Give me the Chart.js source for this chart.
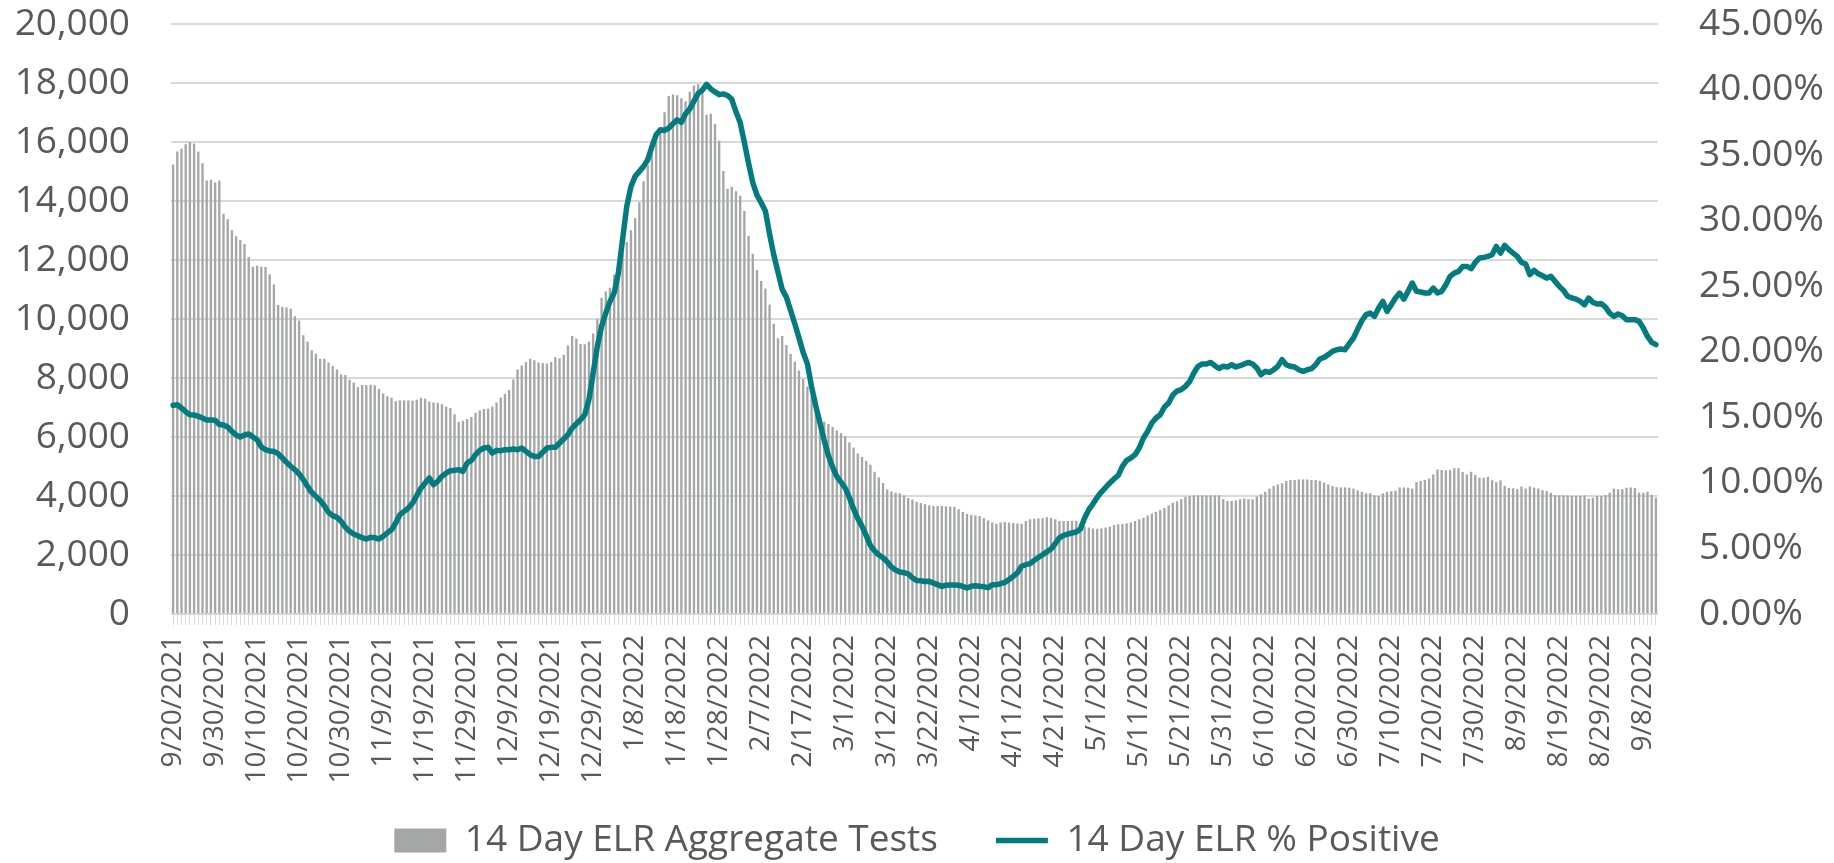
<!DOCTYPE html>
<html>
<head>
<meta charset="utf-8">
<script src="https://cdn.jsdelivr.net/npm/chart.js@4.4.1/dist/chart.umd.min.js"></script>
<style>
html,body{margin:0;padding:0;background:#ffffff;}
#wrap{width:1834px;height:863px;position:relative;}
</style>
</head>
<body>
<div id="wrap"><canvas id="c" width="1834" height="863"></canvas></div>
<script>
// ---- categories (daily report dates) ----
const categories = [
"9/20/2021","9/21/2021","9/22/2021","9/23/2021","9/24/2021","9/25/2021","9/26/2021","9/27/2021","9/28/2021","9/29/2021","9/30/2021",
"10/1/2021","10/2/2021","10/3/2021","10/4/2021","10/5/2021","10/6/2021","10/7/2021","10/8/2021","10/9/2021","10/10/2021","10/11/2021","10/12/2021","10/13/2021","10/14/2021","10/15/2021","10/16/2021","10/17/2021","10/18/2021","10/19/2021","10/20/2021","10/21/2021","10/22/2021","10/23/2021","10/24/2021","10/25/2021","10/26/2021","10/27/2021","10/28/2021","10/29/2021","10/30/2021","10/31/2021",
"11/1/2021","11/2/2021","11/3/2021","11/4/2021","11/5/2021","11/6/2021","11/7/2021","11/8/2021","11/9/2021","11/10/2021","11/11/2021","11/12/2021","11/13/2021","11/14/2021","11/15/2021","11/16/2021","11/17/2021","11/18/2021","11/19/2021","11/20/2021","11/21/2021","11/22/2021","11/23/2021","11/24/2021","11/25/2021","11/26/2021","11/27/2021","11/28/2021","11/29/2021","11/30/2021",
"12/1/2021","12/2/2021","12/3/2021","12/4/2021","12/5/2021","12/6/2021","12/7/2021","12/8/2021","12/9/2021","12/10/2021","12/11/2021","12/12/2021","12/13/2021","12/14/2021","12/15/2021","12/16/2021","12/17/2021","12/18/2021","12/19/2021","12/20/2021","12/21/2021","12/22/2021","12/23/2021","12/24/2021","12/25/2021","12/26/2021","12/27/2021","12/28/2021","12/29/2021","12/30/2021","12/31/2021",
"1/1/2022","1/2/2022","1/3/2022","1/4/2022","1/5/2022","1/6/2022","1/7/2022","1/8/2022","1/9/2022","1/10/2022","1/11/2022","1/12/2022","1/13/2022","1/14/2022","1/15/2022","1/16/2022","1/17/2022","1/18/2022","1/19/2022","1/20/2022","1/21/2022","1/22/2022","1/23/2022","1/24/2022","1/25/2022","1/26/2022","1/27/2022","1/28/2022","1/29/2022","1/30/2022","1/31/2022",
"2/1/2022","2/2/2022","2/3/2022","2/4/2022","2/5/2022","2/6/2022","2/7/2022","2/8/2022","2/9/2022","2/10/2022","2/11/2022","2/12/2022","2/13/2022","2/14/2022","2/15/2022","2/16/2022","2/17/2022","2/18/2022","2/19/2022","2/22/2022","2/23/2022","2/24/2022","2/25/2022","2/26/2022","2/27/2022","2/28/2022",
"3/1/2022","3/2/2022","3/3/2022","3/4/2022","3/5/2022","3/7/2022","3/8/2022","3/9/2022","3/10/2022","3/11/2022","3/12/2022","3/13/2022","3/14/2022","3/15/2022","3/16/2022","3/17/2022","3/18/2022","3/19/2022","3/20/2022","3/21/2022","3/22/2022","3/23/2022","3/24/2022","3/25/2022","3/26/2022","3/27/2022","3/28/2022","3/29/2022","3/30/2022","3/31/2022",
"4/1/2022","4/2/2022","4/3/2022","4/4/2022","4/5/2022","4/6/2022","4/7/2022","4/8/2022","4/9/2022","4/10/2022","4/11/2022","4/12/2022","4/13/2022","4/14/2022","4/15/2022","4/16/2022","4/17/2022","4/18/2022","4/19/2022","4/20/2022","4/21/2022","4/22/2022","4/23/2022","4/24/2022","4/25/2022","4/26/2022","4/27/2022","4/28/2022","4/29/2022","4/30/2022",
"5/1/2022","5/2/2022","5/3/2022","5/4/2022","5/5/2022","5/6/2022","5/7/2022","5/8/2022","5/9/2022","5/10/2022","5/11/2022","5/12/2022","5/13/2022","5/14/2022","5/15/2022","5/16/2022","5/17/2022","5/18/2022","5/19/2022","5/20/2022","5/21/2022","5/22/2022","5/23/2022","5/24/2022","5/25/2022","5/26/2022","5/27/2022","5/28/2022","5/29/2022","5/30/2022","5/31/2022",
"6/1/2022","6/2/2022","6/3/2022","6/4/2022","6/5/2022","6/6/2022","6/7/2022","6/8/2022","6/9/2022","6/10/2022","6/11/2022","6/12/2022","6/13/2022","6/14/2022","6/15/2022","6/16/2022","6/17/2022","6/18/2022","6/19/2022","6/20/2022","6/21/2022","6/22/2022","6/23/2022","6/24/2022","6/25/2022","6/26/2022","6/27/2022","6/28/2022","6/29/2022","6/30/2022",
"7/1/2022","7/2/2022","7/3/2022","7/4/2022","7/5/2022","7/6/2022","7/7/2022","7/8/2022","7/9/2022","7/10/2022","7/11/2022","7/12/2022","7/13/2022","7/14/2022","7/15/2022","7/16/2022","7/17/2022","7/18/2022","7/19/2022","7/20/2022","7/21/2022","7/22/2022","7/23/2022","7/24/2022","7/25/2022","7/26/2022","7/27/2022","7/28/2022","7/29/2022","7/30/2022","7/31/2022",
"8/1/2022","8/2/2022","8/3/2022","8/4/2022","8/5/2022","8/6/2022","8/7/2022","8/8/2022","8/9/2022","8/10/2022","8/11/2022","8/12/2022","8/13/2022","8/14/2022","8/15/2022","8/16/2022","8/17/2022","8/18/2022","8/19/2022","8/20/2022","8/21/2022","8/22/2022","8/23/2022","8/24/2022","8/25/2022","8/26/2022","8/27/2022","8/28/2022","8/29/2022","8/30/2022","8/31/2022",
"9/1/2022","9/2/2022","9/3/2022","9/4/2022","9/5/2022","9/6/2022","9/7/2022","9/8/2022","9/9/2022","9/10/2022","9/11/2022"
];

// ---- series: 14 Day ELR Aggregate Tests (left axis) ----
const aggregateTests = [
15230,15670,15760,15910,15990,15940,15670,15270,14680,14710,
14620,14680,13560,13370,13000,12790,12670,12530,12090,11760,
11790,11760,11750,11510,11160,10460,10400,10380,10340,10080,
9940,9440,9230,8930,8810,8640,8640,8510,8400,8280,
8110,8090,7930,7840,7680,7750,7750,7760,7740,7620,
7460,7370,7320,7200,7230,7230,7230,7220,7250,7320,
7290,7190,7160,7140,7100,7020,6970,6760,6500,6540,
6600,6670,6810,6890,6940,6950,7020,7160,7330,7450,
7580,7940,8280,8410,8530,8640,8590,8510,8490,8480,
8530,8690,8660,8780,9090,9410,9330,9140,9130,9220,
9500,9980,10710,10920,11050,11500,11900,12250,12600,13000,
13400,13950,14660,15200,15600,16000,16400,17000,17550,17600,
17570,17470,17370,17690,17900,17950,17860,16910,16950,16600,
16030,15010,14400,14470,14320,14170,13650,12800,12200,11650,
11280,11020,10480,9830,9340,9410,9110,8800,8540,8240,
7960,7700,7380,7050,6730,6510,6430,6330,6210,6120,
6020,5810,5630,5430,5310,5180,5050,4810,4620,4430,
4210,4140,4100,4080,4010,3920,3870,3790,3750,3710,
3670,3650,3650,3650,3640,3630,3620,3540,3450,3380,
3350,3330,3310,3240,3160,3090,3050,3090,3100,3090,
3070,3060,3050,3140,3200,3220,3230,3240,3270,3250,
3200,3140,3140,3140,3150,3150,3030,2950,2920,2890,
2880,2890,2920,2950,3000,3030,3040,3060,3090,3140,
3200,3250,3330,3390,3450,3510,3580,3670,3760,3810,
3880,3960,3990,4010,4010,4010,4010,4010,4010,4010,
3880,3820,3820,3840,3880,3900,3880,3880,3970,4050,
4130,4240,4330,4380,4420,4500,4530,4530,4550,4550,
4550,4530,4530,4500,4440,4380,4330,4290,4280,4280,
4270,4240,4180,4130,4080,4080,4010,3990,4080,4130,
4150,4170,4280,4280,4270,4240,4460,4500,4530,4580,
4720,4890,4870,4860,4870,4930,4930,4800,4720,4810,
4700,4610,4610,4640,4520,4460,4520,4330,4260,4250,
4220,4310,4240,4310,4270,4240,4190,4160,4100,4020,
4010,4010,4010,3990,3990,3990,4010,3900,3930,3990,
3990,4020,4100,4240,4220,4220,4270,4280,4260,4100,
4100,4130,4030,3930
];

// ---- series: 14 Day ELR % Positive (right axis, percent) ----
const percentPositive = [
15.91,15.96,15.71,15.43,15.20,15.18,15.07,14.95,14.79,14.79,
14.77,14.46,14.41,14.26,13.93,13.65,13.50,13.65,13.73,13.50,
13.29,12.74,12.53,12.43,12.40,12.23,11.90,11.57,11.26,11.01,
10.68,10.24,9.74,9.28,8.97,8.67,8.26,7.75,7.50,7.37,
7.07,6.63,6.30,6.10,5.97,5.82,5.72,5.85,5.82,5.72,
5.92,6.18,6.43,6.94,7.58,7.83,8.08,8.46,9.02,9.60,
9.99,10.37,9.86,10.12,10.50,10.75,10.93,10.96,11.01,10.88,
11.52,11.72,12.15,12.48,12.66,12.71,12.28,12.48,12.46,12.53,
12.53,12.58,12.53,12.66,12.40,12.15,12.02,12.02,12.33,12.66,
12.71,12.71,13.04,13.35,13.68,14.18,14.51,14.82,15.20,16.35,
18.38,20.41,21.94,22.95,23.84,24.48,26.00,28.55,31.09,32.61,
33.38,33.76,34.14,34.65,35.66,36.55,36.94,36.88,37.06,37.40,
37.70,37.50,38.16,38.53,39.12,39.70,39.96,40.40,40.05,39.82,
39.61,39.67,39.55,39.26,38.30,37.49,35.97,34.37,32.91,31.95,
31.37,30.73,28.98,27.38,26.07,24.76,24.17,23.16,22.14,21.06,
19.95,19.08,17.33,15.87,14.56,13.25,12.09,11.21,10.49,10.05,
9.61,8.88,8.01,7.28,6.70,5.97,5.24,4.81,4.51,4.28,
3.99,3.58,3.35,3.20,3.15,3.06,2.77,2.56,2.53,2.48,
2.49,2.36,2.24,2.11,2.19,2.21,2.21,2.19,2.11,1.98,
2.11,2.16,2.11,2.08,2.01,2.24,2.24,2.31,2.41,2.62,
2.87,3.13,3.64,3.76,3.84,4.09,4.32,4.52,4.75,4.96,
5.36,5.80,6.00,6.10,6.18,6.25,6.48,7.32,7.96,8.41,
8.90,9.30,9.66,9.99,10.30,10.57,11.26,11.72,11.90,12.15,
12.66,13.42,13.93,14.57,14.95,15.20,15.79,16.09,16.70,17.00,
17.11,17.36,17.74,18.38,18.89,19.07,19.07,19.19,18.94,18.73,
18.89,18.84,19.01,18.84,18.94,19.07,19.19,19.07,18.76,18.25,
18.51,18.43,18.63,18.89,19.40,19.01,18.89,18.84,18.63,18.51,
18.63,18.71,19.01,19.45,19.57,19.78,20.03,20.16,20.21,20.16,
20.62,21.05,21.73,22.37,22.83,22.95,22.70,23.34,23.84,23.08,
23.59,24.10,24.48,24.02,24.61,25.24,24.61,24.56,24.48,24.48,
24.86,24.48,24.61,25.11,25.75,26.00,26.13,26.51,26.51,26.34,
26.82,27.15,27.20,27.28,27.40,28.04,27.53,28.11,27.79,27.53,
27.28,26.82,26.69,25.88,26.21,25.95,25.80,25.62,25.75,25.37,
24.99,24.68,24.23,24.10,24.02,23.84,23.59,24.10,23.77,23.64,
23.67,23.41,22.95,22.70,22.88,22.75,22.45,22.45,22.45,22.32,
21.81,21.17,20.72,20.54
];

// ---- tick settings ----
const labelEvery = 10;                 // every 10th category is labelled
const leftTickStep = 2000, leftMax = 20000;
const rightTickStep = 5, rightMax = 45;

const FONT = "'Open Sans', sans-serif";
const TEXT = '#595959';
const GRID = '#d9d9d9';
const BAR = '#a5a7a6';
const TEAL = '#047b7f';
const CLEAR = 'rgba(0,0,0,0)';

new Chart(document.getElementById('c'), {
  type: 'bar',
  data: {
    labels: categories,
    datasets: [
      {
        type: 'bar',
        label: '14 Day ELR Aggregate Tests',
        data: aggregateTests,
        backgroundColor: BAR,
        borderWidth: 0,
        barThickness: 1.7,
        yAxisID: 'y',
        order: 1
      },
      {
        type: 'line',
        label: '14 Day ELR % Positive',
        data: percentPositive,
        borderColor: TEAL,
        backgroundColor: TEAL,
        borderWidth: 5.5,
        pointRadius: 0,
        tension: 0,
        borderJoinStyle: 'round',
        borderCapStyle: 'round',
        yAxisID: 'y1',
        order: 0
      }
    ]
  },
  options: {
    responsive: false,
    animation: false,
    devicePixelRatio: 1,
    layout: { padding: { top: 24, left: 0, right: 0, bottom: -6 } },
    plugins: {
      tooltip: { enabled: false },
      legend: {
        position: 'bottom',
        labels: {
          usePointStyle: true,
          pointStyleWidth: 52,
          boxHeight: 24,
          padding: 58,
          color: TEXT,
          font: { family: FONT, size: 37 },
          sort: (a, b) => a.datasetIndex - b.datasetIndex,
          generateLabels(chart) {
            const items = Chart.defaults.plugins.legend.labels.generateLabels(chart);
            items.forEach(it => {
              if (it.datasetIndex === 0) {
                it.pointStyle = 'rect';
                it.lineWidth = 0;
                it.fillStyle = BAR;
                it.strokeStyle = BAR;
              } else {
                it.pointStyle = 'line';
                it.lineWidth = 5.5;
                it.strokeStyle = TEAL;
              }
            });
            return items;
          }
        }
      }
    },
    scales: {
      x: {
        offset: true,
        grid: { display: true, drawOnChartArea: false, drawTicks: true, tickLength: 11, color: GRID, offset: false },
        border: { display: false },
        ticks: {
          autoSkip: false,
          maxRotation: 90,
          minRotation: 90,
          padding: 10,
          color: TEXT,
          font: { family: FONT, size: 28 },
          callback: (v, i) => (i % labelEvery === 0 ? categories[i] : '')
        },
        afterFit(s) {
          s.height = 150;
          // rotated labels run below the axis box into the legend's empty band
          s._computeLabelArea = () => undefined;
        }
      },
      y: {
        position: 'left',
        min: 0,
        max: leftMax,
        ticks: {
          stepSize: leftTickStep,
          padding: 0,
          color: TEXT,
          font: { family: FONT, size: 37 },
          callback: v => Number(v).toLocaleString('en-US')
        },
        grid: { color: GRID, lineWidth: 2, drawTicks: true, tickLength: 41, tickColor: CLEAR },
        border: { display: false },
        afterFit(s) { s.width = 171; }
      },
      y1: {
        position: 'right',
        min: 0,
        max: rightMax,
        ticks: {
          stepSize: rightTickStep,
          padding: 0,
          color: TEXT,
          font: { family: FONT, size: 37 },
          callback: v => Number(v).toFixed(2) + '%'
        },
        grid: { drawOnChartArea: false, drawTicks: true, tickLength: 41, tickColor: CLEAR, color: CLEAR },
        border: { display: false },
        afterFit(s) { s.width = 176; }
      }
    }
  }
});
</script>
</body>
</html>
